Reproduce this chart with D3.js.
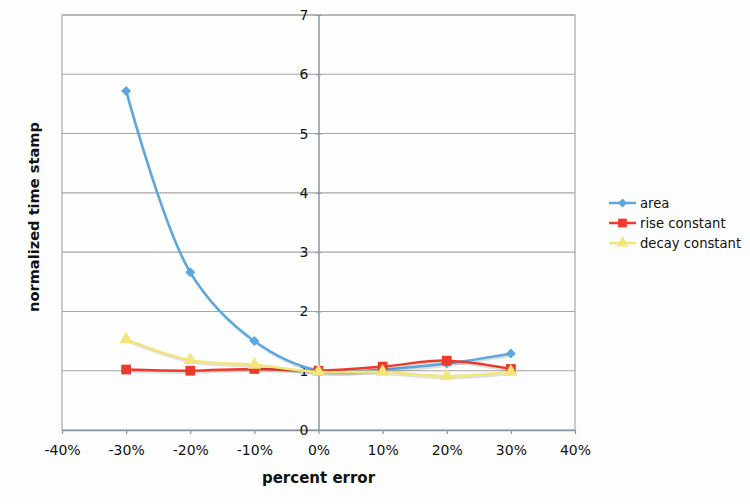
<!DOCTYPE html>
<html><head><meta charset="utf-8">
<script src="https://cdn.jsdelivr.net/npm/d3@7"></script>
<style>body{margin:0;background:#fdfdfd;}svg{display:block;}</style>
</head><body>
<svg id="chart" width="750" height="504"></svg>
<script>
const percentError = [-0.30, -0.20, -0.10, 0.00, 0.10, 0.20, 0.30];
const areaValues   = [5.72, 2.66, 1.50, 1.00, 1.02, 1.12, 1.29];
const riseValues   = [1.02, 1.00, 1.03, 1.00, 1.07, 1.17, 1.03];
const decayValues  = [1.53, 1.18, 1.10, 0.98, 0.98, 0.91, 0.98];
const seriesNames  = ["area", "rise constant", "decay constant"];
const xTicks = [-0.4, -0.3, -0.2, -0.1, 0, 0.1, 0.2, 0.3, 0.4];
const yTicks = [0, 1, 2, 3, 4, 5, 6, 7];

const colors = ["#5ba7de", "#ec3a2c", "#f2e67a"];
const series = [
  {name: seriesNames[0], values: areaValues, color: colors[0], sym: d3.symbolSquare, size: 50, rot: 45},
  {name: seriesNames[1], values: riseValues, color: colors[1], sym: d3.symbolSquare, size: 95, rot: 0},
  {name: seriesNames[2], values: decayValues, color: colors[2], sym: d3.symbolTriangle, size: 80, rot: 0}
];

const svg = d3.select("#chart");
const L = 62, R = 575, T = 15, B = 430;
const x = d3.scaleLinear().domain([-0.4, 0.4]).range([L, R]);
const y = d3.scaleLinear().domain([0, 7]).range([B, T]);
const font = "'DejaVu Sans', Verdana, sans-serif";

// plot background
svg.append("rect").attr("x", L).attr("y", T).attr("width", R - L).attr("height", B - T)
  .attr("fill", "#fefefe").attr("stroke", "#a8a8a8").attr("stroke-width", 1.2);

// gridlines
svg.append("g").selectAll("line").data(yTicks.slice(1)).join("line")
  .attr("x1", L).attr("x2", R).attr("y1", d => y(d)).attr("y2", d => y(d))
  .attr("stroke", "#a5a5a5").attr("stroke-width", 1.1);

// x axis
const xAxis = d3.axisBottom(x).tickValues(xTicks).tickSize(4).tickSizeOuter(0)
  .tickFormat(d3.format(".0%"));
const gx = svg.append("g").attr("transform", `translate(0,${B})`).call(xAxis);
gx.select(".domain").attr("stroke", "#8a96a0").attr("stroke-width", 1.5);
gx.selectAll(".tick line").attr("stroke", "#8a96a0").attr("stroke-width", 1.2);
gx.selectAll(".tick text").attr("font-family", font).attr("font-size", 14)
  .attr("fill", "#111").attr("y", 15).attr("dy", "0.71em")
  .text(d => d3.format(".0%")(d).replace("−", "-"));

// y axis at x = 0
const yAxis = d3.axisLeft(y).tickValues(yTicks).tickSize(0).tickPadding(10).tickFormat(d3.format("d"));
const gy = svg.append("g").attr("transform", `translate(${x(0)},0)`).call(yAxis);
gy.select(".domain").attr("stroke", "#8a96a0").attr("stroke-width", 1.5);
gy.selectAll(".tick text").attr("font-family", font).attr("font-size", 14).attr("fill", "#111");
gy.selectAll(".tick").append("line").attr("x1", -3).attr("x2", 3).attr("stroke", "#8a96a0");

// titles
svg.append("text").attr("x", x(0)).attr("y", 483).attr("text-anchor", "middle")
  .attr("font-family", font).attr("font-weight", "bold").attr("font-size", 15)
  .attr("fill", "#111").text("percent error");
svg.append("text").attr("transform", `translate(39,217) rotate(-90)`)
  .attr("text-anchor", "middle").attr("font-family", font).attr("font-weight", "bold")
  .attr("font-size", 14.6).attr("fill", "#111").text("normalized time stamp");

// lines
const line = d3.line().x((d, i) => x(percentError[i])).y(d => y(d)).curve(d3.curveCatmullRom.alpha(0.5));
const gs = svg.append("g");
series.forEach(s => {
  const g = gs.append("g");
  g.append("path").attr("d", line(s.values)).attr("fill", "none")
    .attr("stroke", "rgba(0,0,0,0.12)").attr("stroke-width", 2.5)
    .attr("transform", "translate(1,2)");
  g.append("path").attr("d", line(s.values)).attr("fill", "none")
    .attr("stroke", s.color).attr("stroke-width", 2.5);
  g.selectAll("path.m").data(s.values).join("path").attr("class", "m")
    .attr("d", d3.symbol().type(s.sym).size(s.size))
    .attr("transform", (d, i) => `translate(${x(percentError[i])},${y(d)}) rotate(${s.rot})`)
    .attr("fill", s.color);
});

// legend
const lg = svg.append("g");
series.forEach((s, i) => {
  const yy = 203 + i * 20;
  lg.append("line").attr("x1", 609).attr("x2", 636).attr("y1", yy).attr("y2", yy)
    .attr("stroke", s.color).attr("stroke-width", 2.5);
  lg.append("path").attr("d", d3.symbol().type(s.sym).size(s.size * 0.8)())
    .attr("transform", `translate(622.5,${yy}) rotate(${s.rot})`).attr("fill", s.color);
  lg.append("text").attr("x", 640).attr("y", yy).attr("dy", "0.35em")
    .attr("font-family", font).attr("font-size", 13.2).attr("fill", "#111").text(s.name);
});
</script>
</body></html>
